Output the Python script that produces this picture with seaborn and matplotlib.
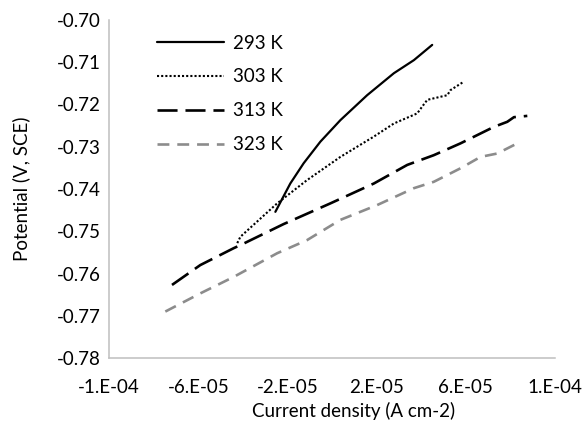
import matplotlib
matplotlib.use("Agg")
import matplotlib.pyplot as plt
import seaborn as sns
import pandas as pd

# Polarization curves (current density in A cm-2, potential in V vs SCE)
cd_293 = [-2.54e-5, -1.87e-5, -1.27e-5, -5.2e-6, 3.8e-6, 1.58e-5, 2.78e-5, 3.68e-5, 4.50e-5]
e_293 = [-0.7454, -0.7387, -0.7339, -0.7288, -0.7237, -0.7178, -0.7126, -0.7095, -0.7059]

cd_303 = [-4.25e-5, -4.11e-5, -2.46e-5, -1.12e-5, 3.8e-6, 1.88e-5, 2.78e-5, 3.83e-5,
          4.05e-5, 4.28e-5, 5.18e-5, 5.32e-5, 5.92e-5]
e_303 = [-0.7528, -0.7513, -0.7434, -0.7379, -0.7324, -0.7276, -0.7245, -0.7221,
         -0.7205, -0.7189, -0.7178, -0.7166, -0.7146]

cd_313 = [-7.18e-5, -5.91e-5, -4.41e-5, -3.96e-5, -2.17e-5, -7e-7, 1.88e-5, 3.38e-5,
          4.57e-5, 5.77e-5, 7.27e-5, 7.87e-5, 8.17e-5, 8.77e-5]
e_313 = [-0.7627, -0.7580, -0.7540, -0.7529, -0.7483, -0.7434, -0.7387, -0.7343,
         -0.7320, -0.7292, -0.7253, -0.7241, -0.7230, -0.7227]

cd_323 = [-7.48e-5, -5.91e-5, -4.41e-5, -2.46e-5, -1.12e-5, 3.8e-6, 2.03e-5, 3.68e-5,
          4.57e-5, 5.77e-5, 6.67e-5, 7.42e-5, 8.32e-5]
e_323 = [-0.7690, -0.7647, -0.7608, -0.7552, -0.7521, -0.7473, -0.7438, -0.7398,
         -0.7383, -0.7351, -0.7324, -0.7316, -0.7292]

series_labels = ["293 K", "303 K", "313 K", "323 K"]

x_ticks = [-1e-4, -6e-5, -2e-5, 2e-5, 6e-5, 1e-4]
x_tick_labels = ["-1.E-04", "-6.E-05", "-2.E-05", "2.E-05", "6.E-05", "1.E-04"]
y_ticks = [-0.78, -0.77, -0.76, -0.75, -0.74, -0.73, -0.72, -0.71, -0.70]
y_tick_labels = ["-0.78", "-0.77", "-0.76", "-0.75", "-0.74", "-0.73", "-0.72", "-0.71", "-0.70"]

sns.set_theme(style="white")
plt.rcParams["font.family"] = ["Lato", "DejaVu Sans"]

fig = plt.figure(figsize=(5.87, 4.34), dpi=100)
ax = fig.add_axes([0.186, 0.175, 0.759, 0.779])

styles = [
    dict(color="black", linewidth=1.6, linestyle="-"),
    dict(color="black", linewidth=1.5, linestyle=(0, (1.0, 1.0))),
    dict(color="black", linewidth=1.9, linestyle=(0, (7.6, 3.0))),
    dict(color="#8c8c8c", linewidth=1.9, linestyle=(0, (4.5, 3.0))),
]
data = [(cd_293, e_293), (cd_303, e_303), (cd_313, e_313), (cd_323, e_323)]

for (xs, ys), lab, st in zip(data, series_labels, styles):
    df = pd.DataFrame({"cd": xs, "E": ys})
    sns.lineplot(data=df, x="cd", y="E", ax=ax, sort=False, label=lab,
                 estimator=None, **st)

ax.set_xlim(-1e-4, 1e-4)
ax.set_ylim(-0.78, -0.70)
ax.set_xticks(x_ticks)
ax.set_xticklabels(x_tick_labels)
ax.set_yticks(y_ticks)
ax.set_yticklabels(y_tick_labels)

ax.tick_params(axis="both", length=0, labelsize=13.5, colors="black")
ax.tick_params(axis="x", pad=15)
ax.tick_params(axis="y", pad=6)

for side in ["top", "right"]:
    ax.spines[side].set_visible(False)
for side in ["left", "bottom"]:
    ax.spines[side].set_color("#bfbfbf")
    ax.spines[side].set_linewidth(1.1)

ax.set_xlabel("Current density (A cm-2)", fontsize=13.5, color="black")
ax.set_ylabel("Potential (V, SCE)", fontsize=13.5, color="black")
ax.xaxis.set_label_coords(0.548, -0.13)
ax.yaxis.set_label_coords(-0.178, 0.5)

leg = ax.legend(loc="upper left", bbox_to_anchor=(0.107, 0.957), frameon=False,
                fontsize=13.5, handlelength=3.6, handletextpad=0.45,
                labelspacing=0.9, borderpad=0, borderaxespad=0)
for t in leg.get_texts():
    t.set_color("black")

fig.savefig("out.png", dpi=100, facecolor="white")
